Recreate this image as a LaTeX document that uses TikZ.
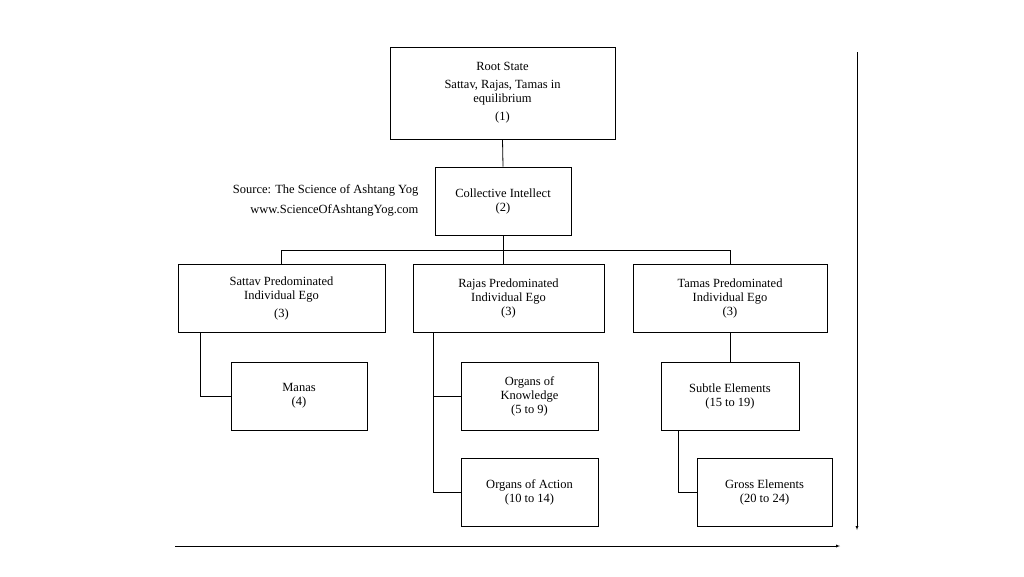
\documentclass[tikz,border=0pt]{standalone}
\usepackage{fontspec}
\setmainfont{Liberation Serif}
\usetikzlibrary{positioning}
\tikzset{
  stagebox/.style={draw, thick, align=center, font=\fontsize{12.5}{14}\selectfont, inner sep=0pt},
  link/.style={thick},
}
\begin{document}
\begin{tikzpicture}[x=1pt,y=-1pt]
\useasboundingbox (0,0) rectangle (1024,576);

% boxes
\node[stagebox, minimum width=225pt, minimum height=92pt] (root) at (502.5,93)
  {Root State\\[4pt]Sattav, Rajas, Tamas in\\equilibrium\\[4pt](1)};
\node[stagebox, minimum width=136pt, minimum height=68pt] (intellect) at (503,201)
  {Collective Intellect\\(2)};
\node[stagebox, minimum width=207pt, minimum height=68pt] (sattav) at (281.5,298)
  {Sattav Predominated\\Individual Ego\\[4pt](3)};
\node[stagebox, minimum width=191pt, minimum height=68pt] (rajas) at (508.5,298)
  {Rajas Predominated\\Individual Ego\\(3)};
\node[stagebox, minimum width=194pt, minimum height=68pt] (tamas) at (730,298)
  {Tamas Predominated\\Individual Ego\\(3)};
\node[stagebox, minimum width=136pt, minimum height=68pt] (manas) at (299,396)
  {Manas\\(4)};
\node[stagebox, minimum width=137pt, minimum height=68pt] (knowledge) at (529.5,396)
  {Organs of\\Knowledge\\(5 to 9)};
\node[stagebox, minimum width=137pt, minimum height=68pt] (action) at (529.5,492)
  {Organs of Action\\(10 to 14)};
\node[stagebox, minimum width=138pt, minimum height=68pt] (subtle) at (730,396)
  {Subtle Elements\\(15 to 19)};
\node[stagebox, minimum width=135pt, minimum height=68pt] (gross) at (764.5,492)
  {Gross Elements\\(20 to 24)};

\node[align=right, anchor=east, font=\fontsize{12.5}{20}\selectfont] (source) at (422,200)
  {Source: The Science of Ashtang Yog\\www.ScienceOfAshtangYog.com};

% connectors
\draw[link] (root.south) -- (intellect.north);
\coordinate (bus) at (503,250);
\draw[link] (intellect.south) -- (bus);
\draw[link] (sattav.north |- bus) -- (tamas.north |- bus);
\draw[link] (sattav.north |- bus) -- (sattav.north);
\draw[link] (bus) -- (rajas.north -| bus);
\draw[link] (tamas.north |- bus) -- (tamas.north);
\draw[link] (200,332) |- (manas.west);
\draw[link] (433,332) |- (action.west);
\draw[link] (433,396) -- (knowledge.west);
\draw[link] (tamas.south) -- (subtle.north);
\draw[link] (678,430) |- (gross.west);

% axes
\coordinate (vtop) at (857,52);
\coordinate (vbot) at (857,530);
\coordinate (hleft) at (175,546);
\coordinate (hright) at (840,546);
\draw[-latex] (vtop) -- (vbot);
\draw[-latex] (hleft) -- (hright);
\end{tikzpicture}
\end{document}
